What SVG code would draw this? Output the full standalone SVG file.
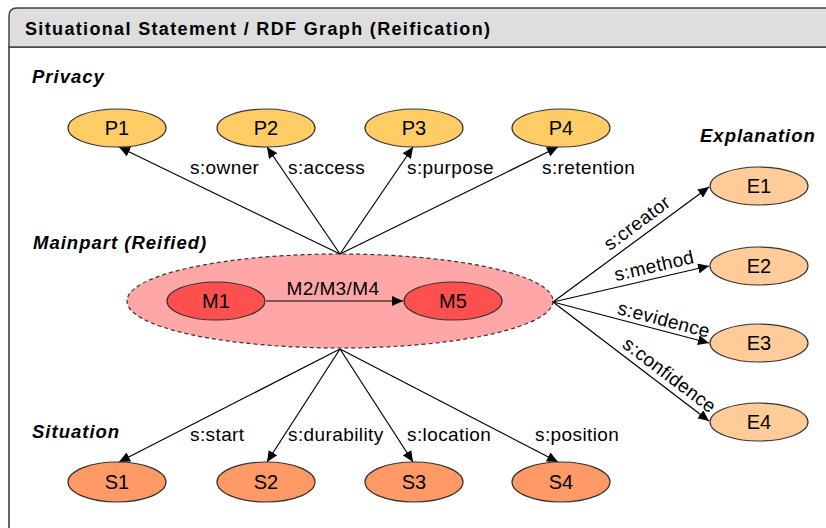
<svg xmlns="http://www.w3.org/2000/svg" width="826" height="528" viewBox="0 0 826 528">
<style>
text{font-family:"Liberation Sans",Arial,sans-serif;fill:#000}
.title{font-size:18px;font-weight:bold}
.sec{font-size:18.5px;font-weight:bold;font-style:italic;letter-spacing:1px}
.lbl{font-size:19px;letter-spacing:0.4px}
.nl{font-size:20px;text-anchor:middle}
.node{stroke:#333;stroke-width:1.2}
.p{fill:#FFCC66}
.e{fill:#FFCC99}
.s{fill:#FF9966}
.m{fill:#FF5050}
.edge{stroke:#000;stroke-width:1.2;fill:none;marker-end:url(#ah)}
</style>
<defs>
<marker id="ah" markerUnits="userSpaceOnUse" markerWidth="12" markerHeight="10" refX="11" refY="5" orient="auto">
<path d="M0,0 L11,5 L0,10 Z" fill="#000"/>
</marker>
</defs>
<rect x="0" y="0" width="826" height="528" fill="#fff"/>
<g id="frame">
<path d="M9,528 L9,47 L830,47" fill="none" stroke="#333" stroke-width="1.5"/>
<path d="M9,47 L9,16 Q9,8 17,8 L830,8 L830,47 Z" fill="#DEDEDE" stroke="#444" stroke-width="1.5"/>
<text class="title" x="25" y="35" textLength="465" lengthAdjust="spacing">Situational Statement / RDF Graph (Reification)</text>
</g>
<g id="sections">
<text class="sec" x="32" y="83">Privacy</text>
<text class="sec" x="700" y="142">Explanation</text>
<text class="sec" x="33" y="249">Mainpart (Reified)</text>
<text class="sec" x="32" y="438">Situation</text>
</g>
<g id="mainpart">
<ellipse cx="340" cy="301" rx="213" ry="47" fill="#FFA6A6" stroke="#333" stroke-width="1.2" stroke-dasharray="4,3"/>
</g>
<g id="connectors">
<line class="edge" x1="340" y1="254" x2="119" y2="147"/>
<line class="edge" x1="340" y1="254" x2="267" y2="147"/>
<line class="edge" x1="340" y1="254" x2="413" y2="147"/>
<line class="edge" x1="340" y1="254" x2="558" y2="147"/>
<line class="edge" x1="340" y1="349" x2="119" y2="462"/>
<line class="edge" x1="340" y1="349" x2="267" y2="462"/>
<line class="edge" x1="340" y1="349" x2="413" y2="462"/>
<line class="edge" x1="340" y1="349" x2="558" y2="462"/>
<line class="edge" x1="553" y1="302" x2="709" y2="187"/>
<line class="edge" x1="553" y1="302" x2="709" y2="266"/>
<line class="edge" x1="553" y1="302" x2="709" y2="343"/>
<line class="edge" x1="553" y1="302" x2="709" y2="421"/>
<line class="edge" x1="266" y1="301" x2="403" y2="301"/>
<text class="lbl" x="190" y="174">s:owner</text>
<text class="lbl" x="288" y="174">s:access</text>
<text class="lbl" x="407" y="174">s:purpose</text>
<text class="lbl" x="542" y="174">s:retention</text>
<text class="lbl" x="190" y="441">s:start</text>
<text class="lbl" x="288" y="441">s:durability</text>
<text class="lbl" x="407" y="441">s:location</text>
<text class="lbl" x="535" y="441">s:position</text>
<text class="lbl" x="333" y="295" text-anchor="middle">M2/M3/M4</text>
<text class="lbl" text-anchor="middle" transform="translate(645,233.7) rotate(-36.6) translate(0,-7)">s:creator</text>
<text class="lbl" text-anchor="middle" transform="translate(657,277.8) rotate(-13.1) translate(0,-6)">s:method</text>
<text class="lbl" text-anchor="middle" transform="translate(661,330.6) rotate(14.8) translate(0,-5)">s:evidence</text>
<text class="lbl" text-anchor="middle" transform="translate(662,385) rotate(37.3) translate(0,-6)">s:confidence</text>
</g>
<g id="P1"><ellipse class="node p" cx="117" cy="128" rx="49" ry="19"/><text class="nl" x="117" y="135">P1</text></g>
<g id="P2"><ellipse class="node p" cx="266" cy="128" rx="49" ry="19"/><text class="nl" x="266" y="135">P2</text></g>
<g id="P3"><ellipse class="node p" cx="414" cy="128" rx="49" ry="19"/><text class="nl" x="414" y="135">P3</text></g>
<g id="P4"><ellipse class="node p" cx="561" cy="128" rx="49" ry="19"/><text class="nl" x="561" y="135">P4</text></g>
<g id="M1"><ellipse class="node m" cx="216" cy="301" rx="49" ry="19"/><text class="nl" x="216" y="308">M1</text></g>
<g id="M5"><ellipse class="node m" cx="453" cy="301" rx="49" ry="19"/><text class="nl" x="453" y="308">M5</text></g>
<g id="E1"><ellipse class="node e" cx="759" cy="186" rx="49" ry="19"/><text class="nl" x="759" y="193">E1</text></g>
<g id="E2"><ellipse class="node e" cx="759" cy="266" rx="49" ry="19"/><text class="nl" x="759" y="273">E2</text></g>
<g id="E3"><ellipse class="node e" cx="759" cy="343" rx="49" ry="19"/><text class="nl" x="759" y="350">E3</text></g>
<g id="E4"><ellipse class="node e" cx="759" cy="422" rx="49" ry="19"/><text class="nl" x="759" y="429">E4</text></g>
<g id="S1"><ellipse class="node s" cx="117" cy="482" rx="49" ry="20"/><text class="nl" x="117" y="489">S1</text></g>
<g id="S2"><ellipse class="node s" cx="266" cy="482" rx="49" ry="20"/><text class="nl" x="266" y="489">S2</text></g>
<g id="S3"><ellipse class="node s" cx="414" cy="482" rx="49" ry="20"/><text class="nl" x="414" y="489">S3</text></g>
<g id="S4"><ellipse class="node s" cx="561" cy="482" rx="49" ry="20"/><text class="nl" x="561" y="489">S4</text></g>
</svg>
